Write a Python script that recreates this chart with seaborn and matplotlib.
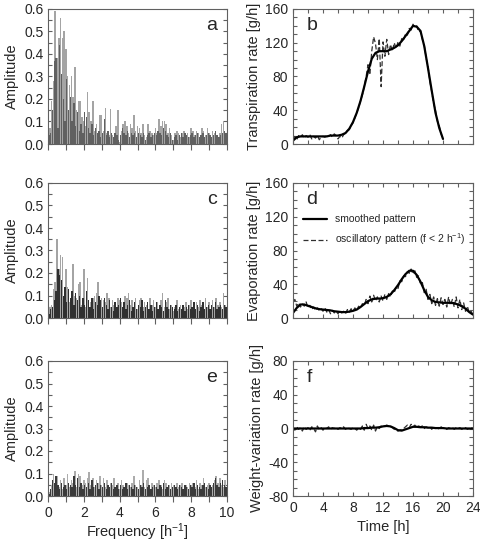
import numpy as np
import pandas as pd
import matplotlib
matplotlib.use("Agg")
import matplotlib.pyplot as plt
from matplotlib.ticker import MultipleLocator, FormatStrFormatter
from matplotlib.lines import Line2D
import seaborn as sns

# ---------------- data ----------------
# amplitude spectra: "light" bars at f = 0.0, 0.1, ... 9.9 ; "dark" bars at f = 0.05, 0.15, ... 9.95
spec_a_light = [0.05, 0.07, 0.19, 0.28, 0.59, 0.38, 0.47, 0.56, 0.47, 0.50,
                0.42, 0.30, 0.26, 0.30, 0.21, 0.34, 0.15, 0.19, 0.19, 0.12,
                0.10, 0.08, 0.23, 0.14, 0.10, 0.19, 0.06, 0.09, 0.04, 0.13,
                0.13, 0.06, 0.16, 0.05, 0.04, 0.155, 0.04, 0.03, 0.08, 0.15,
                0.01, 0.06, 0.09, 0.10, 0.08, 0.05, 0.09, 0.07, 0.13, 0.06,
                0.08, 0.07, 0.05, 0.09, 0.04, 0.03, 0.09, 0.06, 0.05, 0.04,
                0.07, 0.05, 0.11, 0.08, 0.10, 0.10, 0.09, 0.05, 0.07, 0.04,
                0.02, 0.05, 0.06, 0.05, 0.03, 0.05, 0.06, 0.04, 0.05, 0.03,
                0.07, 0.06, 0.04, 0.06, 0.05, 0.03, 0.07, 0.06, 0.04, 0.07,
                0.05, 0.03, 0.06, 0.05, 0.04, 0.03, 0.05, 0.09, 0.10, 0.04]
spec_a_dark = [0.04, 0.05, 0.15, 0.37, 0.38, 0.07, 0.44, 0.31, 0.20, 0.10,
               0.29, 0.15, 0.21, 0.10, 0.18, 0.08, 0.14, 0.06, 0.09, 0.05,
               0.14, 0.12, 0.07, 0.05, 0.09, 0.04, 0.07, 0.05, 0.06, 0.03,
               0.05, 0.11, 0.04, 0.06, 0.03, 0.05, 0.03, 0.05, 0.04, 0.02,
               0.04, 0.07, 0.05, 0.04, 0.06, 0.03, 0.05, 0.04, 0.05, 0.03,
               0.05, 0.04, 0.03, 0.05, 0.02, 0.04, 0.05, 0.03, 0.04, 0.05,
               0.04, 0.06, 0.05, 0.04, 0.07, 0.06, 0.04, 0.03, 0.05, 0.02,
               0.03, 0.04, 0.02, 0.04, 0.05, 0.03, 0.05, 0.04, 0.03, 0.04,
               0.05, 0.03, 0.04, 0.05, 0.03, 0.04, 0.05, 0.03, 0.04, 0.05,
               0.04, 0.03, 0.04, 0.06, 0.04, 0.03, 0.04, 0.05, 0.06, 0.05]
spec_c_light = [0.03, 0.05, 0.06, 0.13, 0.16, 0.35, 0.22, 0.28, 0.27, 0.09,
                0.22, 0.14, 0.07, 0.10, 0.24, 0.10, 0.09, 0.15, 0.16, 0.06,
                0.22, 0.05, 0.18, 0.04, 0.07, 0.09, 0.10, 0.11, 0.16, 0.05,
                0.09, 0.08, 0.07, 0.11, 0.09, 0.05, 0.08, 0.06, 0.04, 0.09,
                0.08, 0.07, 0.05, 0.10, 0.09, 0.11, 0.06, 0.08, 0.05, 0.09,
                0.04, 0.08, 0.09, 0.05, 0.07, 0.06, 0.03, 0.09, 0.06, 0.08,
                0.05, 0.07, 0.04, 0.08, 0.11, 0.05, 0.07, 0.09, 0.04, 0.06,
                0.03, 0.05, 0.08, 0.04, 0.06, 0.03, 0.05, 0.07, 0.04, 0.06,
                0.08, 0.05, 0.04, 0.07, 0.05, 0.08, 0.06, 0.04, 0.09, 0.05,
                0.07, 0.04, 0.08, 0.05, 0.09, 0.06, 0.07, 0.05, 0.11, 0.06]
spec_c_dark = [0.02, 0.04, 0.05, 0.08, 0.12, 0.22, 0.19, 0.17, 0.10, 0.14,
               0.07, 0.13, 0.09, 0.12, 0.06, 0.11, 0.08, 0.10, 0.05, 0.09,
               0.06, 0.12, 0.08, 0.05, 0.09, 0.04, 0.07, 0.06, 0.10, 0.08,
               0.05, 0.09, 0.06, 0.04, 0.08, 0.05, 0.03, 0.07, 0.05, 0.06,
               0.09, 0.05, 0.07, 0.04, 0.06, 0.08, 0.03, 0.05, 0.07, 0.04,
               0.06, 0.05, 0.08, 0.03, 0.05, 0.07, 0.04, 0.06, 0.03, 0.05,
               0.07, 0.04, 0.06, 0.05, 0.03, 0.08, 0.05, 0.04, 0.06, 0.05,
               0.04, 0.06, 0.03, 0.05, 0.04, 0.06, 0.03, 0.05, 0.06, 0.04,
               0.05, 0.07, 0.04, 0.06, 0.03, 0.05, 0.07, 0.04, 0.05, 0.06,
               0.04, 0.06, 0.05, 0.07, 0.04, 0.05, 0.06, 0.04, 0.06, 0.05]
spec_e_light = [0.01, 0.02, 0.05, 0.10, 0.06, 0.09, 0.04, 0.07, 0.03, 0.08,
                0.05, 0.10, 0.04, 0.07, 0.06, 0.11, 0.04, 0.10, 0.09, 0.05,
                0.07, 0.06, 0.08, 0.105, 0.05, 0.08, 0.04, 0.07, 0.06, 0.09,
                0.05, 0.08, 0.04, 0.07, 0.03, 0.06, 0.05, 0.08, 0.04, 0.06,
                0.03, 0.07, 0.05, 0.04, 0.06, 0.05, 0.04, 0.06, 0.09, 0.05,
                0.04, 0.07, 0.05, 0.115, 0.04, 0.07, 0.08, 0.03, 0.06, 0.05,
                0.04, 0.06, 0.07, 0.05, 0.03, 0.07, 0.06, 0.04, 0.05, 0.06,
                0.05, 0.03, 0.06, 0.04, 0.05, 0.06, 0.03, 0.05, 0.04, 0.06,
                0.05, 0.06, 0.04, 0.07, 0.03, 0.06, 0.05, 0.08, 0.04, 0.05,
                0.06, 0.04, 0.05, 0.07, 0.09, 0.06, 0.08, 0.05, 0.04, 0.07]
spec_e_dark = [0.01, 0.03, 0.07, 0.06, 0.09, 0.05, 0.03, 0.06, 0.04, 0.05,
               0.03, 0.06, 0.05, 0.04, 0.09, 0.05, 0.08, 0.04, 0.06, 0.03,
               0.05, 0.04, 0.06, 0.03, 0.07, 0.04, 0.05, 0.06, 0.03, 0.05,
               0.04, 0.06, 0.03, 0.05, 0.04, 0.06, 0.03, 0.04, 0.05, 0.03,
               0.05, 0.03, 0.04, 0.06, 0.03, 0.05, 0.04, 0.03, 0.05, 0.04,
               0.03, 0.05, 0.04, 0.06, 0.03, 0.04, 0.05, 0.03, 0.04, 0.05,
               0.04, 0.03, 0.05, 0.04, 0.06, 0.03, 0.04, 0.05, 0.03, 0.04,
               0.05, 0.04, 0.03, 0.05, 0.04, 0.03, 0.05, 0.04, 0.03, 0.05,
               0.04, 0.06, 0.03, 0.05, 0.04, 0.03, 0.05, 0.06, 0.04, 0.03,
               0.05, 0.04, 0.06, 0.08, 0.05, 0.04, 0.06, 0.07, 0.05, 0.04]

# time series: smoothed pattern sampled every 0.5 h, oscillatory pattern every 0.25 h
smooth_b = [4, 8, 9, 9, 9, 9, 9, 9, 9, 9, 10, 10, 10, 11, 13, 18, 26, 37, 51, 68,
            86, 101, 108, 110, 110, 110, 112, 114, 117, 122, 128, 134, 140, 139,
            134, 116, 90, 63, 37, 19, 6]
osc_b = [6, 9, 5, 10, 8, 11, 7, 10, 8, 11, 6, 9, 7, 10, 5, 8, 9, 8, 10, 9,
         11, 8, 12, 10, 6, 9, 7, 11, 13, 16, 17, 22, 25, 31, 37, 43, 51, 58, 68, 80,
         94, 82, 110, 127, 119, 100, 125, 68, 121, 104, 124, 106, 118, 110, 120, 113,
         121, 116, 125, 122, 131, 129, 137, 135, 142, 138, 140, 133, 134, 124, 117,
         102, 92, 74, 62, 48, 40, 27, 22, 12, 6]
smooth_d = [6, 12, 16, 16, 14.5, 13, 11.5, 10.5, 10, 9.5, 9, 8, 7.5, 7, 7, 7.5, 8.5,
            10, 13, 16.5, 20, 22, 23, 23, 23.5, 25, 28, 33, 39, 46, 52, 56, 56, 51, 43,
            33, 25, 21, 19, 18.5, 18, 18, 18, 17.5, 16, 14, 11, 7, 4]
osc_d = [19, 22, 14, 18, 13, 17, 14, 19, 12, 15, 10, 13, 9, 12, 9, 11, 8, 12, 7, 10,
         5, 9, 6, 8, 5, 9, 6, 8, 5, 10, 7, 11, 8, 12, 9, 14, 12, 17, 15, 22,
         17, 26, 19, 27, 20, 25, 19, 26, 20, 28, 22, 29, 25, 32, 30, 37, 35, 44, 43, 50,
         49, 55, 53, 58, 52, 56, 48, 50, 40, 42, 30, 34, 22, 28, 17, 25, 15, 23, 14, 24,
         16, 22, 13, 25, 15, 22, 13, 25, 12, 22, 10, 18, 8, 14, 6, 8, 4]
smooth_f = [0, 0, 0, 0, 0, 0, 0, 0, 0, 0, 0, 0, 0, 0, 0, 0, 0, 0, 0,
            0.5, 0.5, 1, 1, 1.5, 2.5, 3, 2.5, 0.5, -2, -2.5, -1, 0.5, 2, 2, 1.5, 1.5,
            1, 1, 0.5, 0.5, 0.5, 0, 0, 0, 0, 0, 0, 0, 0]
osc_f = [1, -2, 2, -1, 1, -3, 2, -1, 1, -2, 2, 0,
         -4, 3, -1, 1, -2, 1, 0, 2, -1, 1, 0, 1,
         -1, 1, 0, 2, -1, 1, 0, -1, 1, 0, -2, 1,
         -1, 3, -2, 5, 0, 3, -2, 4, -3, 2, 0, 3,
         2, 3, 4, 3, 2, 1, -1, -2, -3, -2, -1, 0,
         2, 4, 1, 5, 2, 4, 1, 3, 2, 3, 0, 2,
         1, 2, -1, 2, 0, 1, -1, 2, 0, 1, -1, 1,
         0, 1, -1, 1, 0, 1, -1, 0, 1, -1, 0, 1,
         0]

panel_labels = ["a", "b", "c", "d", "e", "f"]
right_ylabels = ["Transpiration rate [g/h]", "Evaporation rate [g/h]", "Weight-variation rate [g/h]"]
right_ylims = [(0, 160), (0, 160), (-80, 80)]

# ---------------- style ----------------
sns.set_style("ticks")
plt.rcParams["font.family"] = ["Liberation Sans", "DejaVu Sans"]
plt.rcParams["mathtext.fontset"] = "custom"
plt.rcParams["mathtext.rm"] = "Liberation Sans"
plt.rcParams["mathtext.it"] = "Liberation Sans:italic"
plt.rcParams["axes.unicode_minus"] = False
plt.rcParams["font.size"] = 10

SPINE = "#606060"
LABEL_FS = 10.5
fig = plt.figure(figsize=(4.8, 5.42), dpi=100)

left_x, left_w = 48 / 480, 179 / 480
right_x, right_w = 293 / 480, 180 / 480
row_tops = [9, 183, 361]
ax_h_px = 135

spectra = [(spec_a_light, spec_a_dark, "#a4a4a4", "#606060"),
           (spec_c_light, spec_c_dark, "#a4a4a4", "#303030"),
           (spec_e_light, spec_e_dark, "#acacac", "#3a3a3a")]
series = [(smooth_b, osc_b), (smooth_d, osc_d), (smooth_f, osc_f)]

freq_light = np.round(np.arange(len(spec_a_light)) * 0.1, 3)
freq_dark = np.round(freq_light + 0.05, 3)

for r in range(3):
    bottom = 1 - (row_tops[r] + ax_h_px) / 542
    h = ax_h_px / 542
    axL = fig.add_axes([left_x, bottom, left_w, h])
    axR = fig.add_axes([right_x, bottom, right_w, h])

    # ----- left: amplitude spectrum -----
    light, dark, cl, cd = spectra[r]
    sns.barplot(x=freq_light, y=light, native_scale=True, width=0.85, color=cl,
                saturation=1, linewidth=0, errorbar=None, ax=axL)
    sns.barplot(x=freq_dark, y=dark, native_scale=True, width=0.75, color=cd,
                saturation=1, linewidth=0, errorbar=None, ax=axL)
    axL.set_xlim(0, 10)
    axL.set_ylim(0, 0.6)
    axL.xaxis.set_major_locator(MultipleLocator(2))
    axL.xaxis.set_minor_locator(MultipleLocator(1))
    axL.yaxis.set_major_locator(MultipleLocator(0.1))
    axL.yaxis.set_minor_locator(MultipleLocator(0.05))
    axL.yaxis.set_major_formatter(FormatStrFormatter("%.1f"))
    axL.tick_params(axis="x", which="both", direction="out", length=4, width=0.8,
                    color=SPINE, top=False, bottom=True, labelsize=10)
    axL.tick_params(axis="y", which="both", direction="in", length=3, width=0.8,
                    color=SPINE, left=True, right=True, labelsize=10, pad=3)
    axL.set_ylabel("Amplitude", fontsize=LABEL_FS, labelpad=4)
    if r < 2:
        axL.set_xticklabels([])
        axL.set_xlabel("")
    else:
        axL.set_xlabel("Frequency [h$^{-1}$]", fontsize=LABEL_FS, labelpad=1)
    axL.text(0.945, 0.875, panel_labels[2 * r], transform=axL.transAxes,
             ha="right", va="center", fontsize=14)

    # ----- right: time series -----
    sm, osc = series[r]
    t_sm = np.arange(len(sm)) * 0.5
    t_osc = np.arange(len(osc)) * 0.25
    sns.lineplot(x=t_osc, y=osc, ax=axR, color="#303030", linewidth=0.9,
                 linestyle=(0, (4, 2)))
    sns.lineplot(x=t_sm, y=sm, ax=axR, color="black", linewidth=1.6)
    axR.set_xlim(0, 24)
    axR.set_ylim(*right_ylims[r])
    axR.xaxis.set_major_locator(MultipleLocator(4))
    axR.xaxis.set_minor_locator(MultipleLocator(2))
    axR.yaxis.set_major_locator(MultipleLocator(40))
    axR.yaxis.set_minor_locator(MultipleLocator(10))
    axR.tick_params(axis="both", which="both", direction="in", length=3, width=0.8,
                    color=SPINE, top=True, bottom=True, left=True, right=True,
                    labelsize=10)
    axR.set_ylabel(right_ylabels[r], fontsize=LABEL_FS, labelpad=3)
    if r < 2:
        axR.set_xticklabels([])
        axR.set_xlabel("")
    else:
        axR.set_xlabel("Time [h]", fontsize=LABEL_FS, labelpad=4)
    axR.text(0.075, 0.875, panel_labels[2 * r + 1], transform=axR.transAxes,
             ha="left", va="center", fontsize=14)

    if r == 1:
        handles = [Line2D([], [], color="black", linewidth=1.6),
                   Line2D([], [], color="#303030", linewidth=0.9, linestyle=(0, (4, 2)))]
        axR.legend(handles, ["smoothed pattern", "oscillatory pattern (f < 2 h$^{-1}$)"],
                   loc="upper left", bbox_to_anchor=(0.03, 0.80), frameon=False,
                   fontsize=7.5, handlelength=2.3, handletextpad=0.8, labelspacing=0.7,
                   borderaxespad=0)

    for ax in (axL, axR):
        for sp in ax.spines.values():
            sp.set_visible(True)
            sp.set_color(SPINE)
            sp.set_linewidth(0.8)

fig.savefig("out.png", dpi=100)
